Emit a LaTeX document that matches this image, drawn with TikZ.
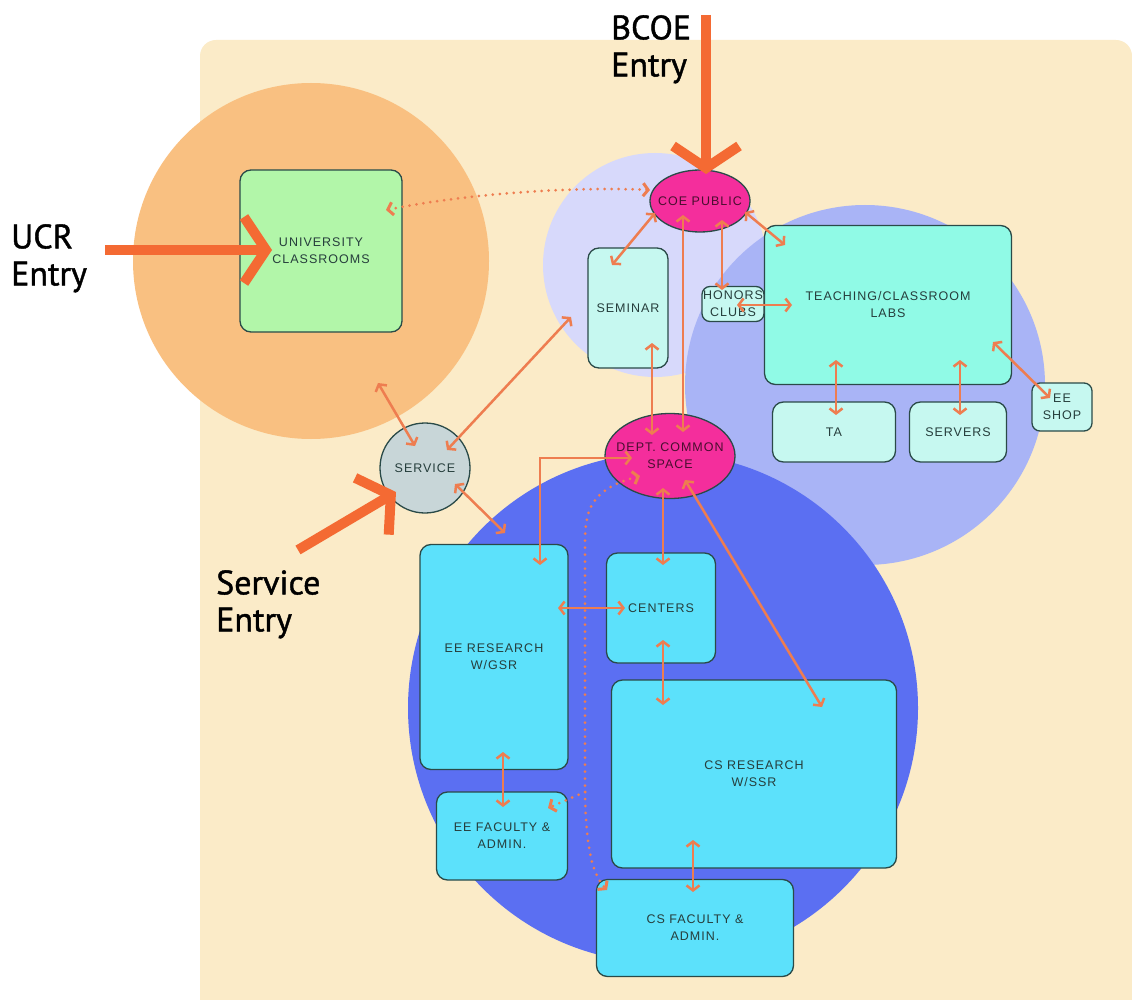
\documentclass[tikz,border=0pt]{standalone}
\usepackage{fontspec}
\usetikzlibrary{arrows.meta,calc,shapes.geometric}
\newfontfamily\roomfont[LetterSpace=8]{Liberation Sans}
\newfontfamily\entryfont[FakeBold=1.2]{PT Sans}
\definecolor{bgbeige}{HTML}{FBEBC8}
\definecolor{ucrzone}{HTML}{F9C081}
\definecolor{coezone}{HTML}{D7D9FB}
\definecolor{labzone}{HTML}{A9B4F6}
\definecolor{deptzone}{HTML}{5B6FF2}
\definecolor{univgreen}{HTML}{B2F6A9}
\definecolor{hubpink}{HTML}{F42E9C}
\definecolor{labaqua}{HTML}{90FAE6}
\definecolor{palecyan}{HTML}{C6F8F0}
\definecolor{roomcyan}{HTML}{5CE1FB}
\definecolor{servgray}{HTML}{C8D6D8}
\definecolor{roomedge}{HTML}{2A4A48}
\definecolor{roomtext}{HTML}{263E3C}
\definecolor{linkorange}{HTML}{EE7D50}
\definecolor{entryorange}{HTML}{F46A33}
\tikzset{
  barb/.tip={Straight Barb[length=5pt,width=13pt]},
  zone/.style={circle, inner sep=0pt},
  room/.style={draw=roomedge, line width=1.3pt, rounded corners=11pt, align=center, inner sep=0pt,
    text=roomtext, font=\roomfont\fontsize{12.5}{17}\selectfont},
  hub/.style={room, ellipse, inner xsep=-10pt, inner ysep=-2pt, fill=hubpink, text=black!70!hubpink},
  link/.style={draw=linkorange, line width=2.5pt, barb-barb},
  walk/.style={draw=linkorange, line width=3pt, line cap=round, dash pattern=on 0pt off 7pt},
  entry/.style={draw=entryorange, line width=10pt, -{Straight Barb[length=22pt,width=66pt]}},
  entrylabel/.style={anchor=north west, inner sep=0pt, align=left, font=\entryfont\fontsize{34}{37}\selectfont}
}
\begin{document}
\begin{tikzpicture}[x=1pt,y=-1pt]
  \useasboundingbox (0,0) rectangle (1132,1000);
  \fill[bgbeige, rounded corners=16pt] (200,1000) -- (200,40) -- (1132,40) -- (1132,1000);

  \node[zone, fill=ucrzone, minimum size=356pt] (ucrarea) at (311,261) {};
  \node[zone, fill=coezone, minimum size=224pt] (coearea) at (655,265) {};
  \node[zone, fill=labzone, minimum size=360pt] (labarea) at (865,385) {};
  \node[zone, fill=deptzone, minimum size=510pt] (deptarea) at (663,708) {};

  \node[room, fill=univgreen, minimum width=162pt, minimum height=162pt] (univ) at (321,251) {UNIVERSITY\\CLASSROOMS};
  \node[hub, minimum width=100pt, minimum height=62pt] (coe) at (700,201) {COE PUBLIC};
  \node[room, fill=palecyan, minimum width=80pt, minimum height=120pt] (seminar) at (628,308) {SEMINAR};
  \node[room, fill=labaqua, minimum width=247pt, minimum height=159pt] (teach) at (888,305) {TEACHING/CLASSROOM\\LABS};
  \node[room, fill=palecyan, rounded corners=8pt, minimum width=62pt, minimum height=35pt] (honors) at (733,304) {HONORS\\CLUBS};
  \node[room, fill=palecyan, minimum width=123pt, minimum height=60pt] (ta) at (834,432) {TA};
  \node[room, fill=palecyan, minimum width=97pt, minimum height=60pt] (servers) at (958,432) {SERVERS};
  \node[room, fill=palecyan, rounded corners=8pt, minimum width=60pt, minimum height=48pt] (eeshop) at (1062,407) {EE\\SHOP};
  \node[room, circle, fill=servgray, minimum size=90pt] (service) at (425,468) {SERVICE};
  \node[hub, minimum width=130pt, minimum height=85pt] (dept) at (670,456) {DEPT. COMMON\\SPACE};
  \node[room, fill=roomcyan, minimum width=148pt, minimum height=225pt] (eeres) at (494,657) {EE RESEARCH\\W/GSR};
  \node[room, fill=roomcyan, minimum width=109pt, minimum height=110pt] (centers) at (661,608) {CENTERS};
  \node[room, fill=roomcyan, minimum width=285pt, minimum height=188pt] (csres) at (754,774) {CS RESEARCH\\W/SSR};
  \node[room, fill=roomcyan, minimum width=131pt, minimum height=88pt] (eefac) at (502,836) {EE FACULTY \&\\ADMIN.};
  \node[room, fill=roomcyan, minimum width=197pt, minimum height=97pt] (csfac) at (695,928) {CS FACULTY \&\\ADMIN.};

  \draw[link] ($(coe)+(-45,12)$) -- ($(seminar)+(-16,-43)$);
  \draw[link] ($(coe)+(-17,14)$) -- ($(dept)+(13,-24)$);
  \draw[link] ($(coe)+(22,19)$) -- ($(honors)+(-11,-14)$);
  \draw[link] ($(coe)+(45,11)$) -- ($(teach)+(-103,-60)$);
  \draw[link] ($(honors)+(4,1)$) -- ($(teach)+(-96,0)$);
  \draw[link] ($(seminar)+(24,35)$) -- ($(dept)+(-18,-21)$);
  \draw[link] ($(ucrarea)+(67,122)$) -- ($(service)+(-10,-22)$);
  \draw[link] ($(service)+(22,-18)$) -- ($(seminar)+(-57,9)$);
  \draw[link] ($(service)+(30,16)$) -- ($(eeres)+(11,-124)$);
  \draw[link] ($(dept)+(-38,2)$) -| ($(eeres)+(46,-92)$);
  \draw[link] ($(dept)+(-7,32)$) -- ($(centers)+(2,-43)$);
  \draw[link] ($(dept)+(15,24)$) -- ($(csres)+(68,-67)$);
  \draw[link] ($(eeres)+(64,-49)$) -- ($(centers)+(-36,0)$);
  \draw[link] ($(centers)+(2,32)$) -- ($(csres)+(-91,-69)$);
  \draw[link] ($(eeres)+(9,95)$) -- ($(eefac)+(1,-29)$);
  \draw[link] ($(csres)+(-61,66)$) -- ($(csfac)+(-2,-36)$);
  \draw[link] ($(teach)+(-52,55)$) -- ($(ta)+(2,-17)$);
  \draw[link] ($(teach)+(72,55)$) -- ($(servers)+(2,-17)$);
  \draw[link] ($(teach)+(105,37)$) -- ($(eeshop)+(-12,-9)$);

  \draw[walk, barb-barb] ($(coe)+(-50,-11)$) .. controls (560,186) and (455,196) .. ($(univ)+(65,-41)$);
  \coordinate (fork) at (585,792);
  \draw[walk, barb-] ($(dept)+(-30,20)$) .. controls (596,488) and (585,505) .. (585,540) -- (fork);
  \draw[walk, -barb] (fork) -- ($(eefac)+(46,-28)$);
  \draw[walk, -barb] (fork) .. controls (586,850) and (593,875) .. ($(csfac)+(-88,-38)$);

  \coordinate (bcoein) at (706,15);
  \coordinate (ucrin) at (105,250);
  \coordinate (servin) at (298,550);
  \draw[entry] (bcoein) -- ($(coe)+(6,-27)$);
  \draw[entry] (ucrin) -- ($(univ)+(-49,-1)$);
  \draw[entry] (servin) -- ($(service)+(-29,24)$);
  \node[entrylabel] (bcoelabel) at (611,15) {BCOE\\Entry};
  \node[entrylabel] (ucrlabel) at (11,224) {UCR\\Entry};
  \node[entrylabel] (servlabel) at (216,570) {Service\\Entry};
\end{tikzpicture}
\end{document}
